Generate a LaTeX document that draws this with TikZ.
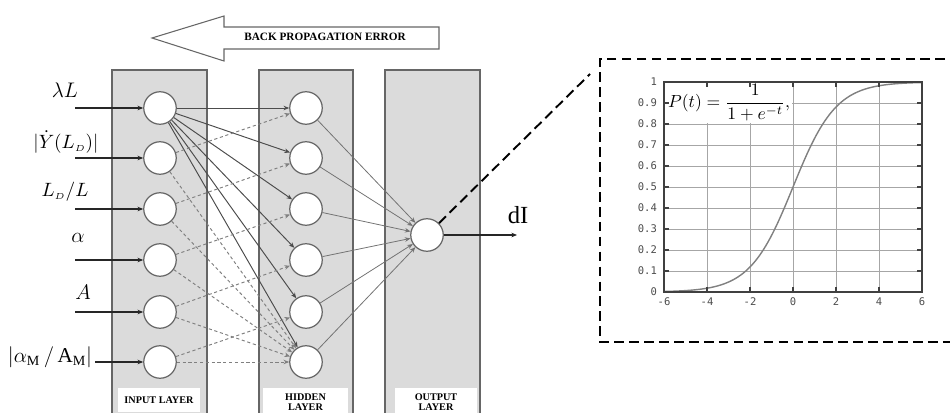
\documentclass[tikz,border=0pt]{standalone}
\usepackage{fontspec}
\setmainfont{Liberation Serif}
\newfontfamily\monofont{DejaVu Sans Mono}
\usetikzlibrary{arrows.meta}

\begin{document}
\begin{tikzpicture}[
x=0.2mm, y=-0.2mm,
>={Stealth[length=3.2pt,width=2.6pt]},
layer/.style={draw=black!60, fill=black!14, line width=0.6pt},
neuron/.style={circle, draw=black!60, fill=white, line width=0.7pt,
minimum size=6.5mm, inner sep=0pt},
feed/.style={->, draw=black!85, line width=0.6pt},
edge/.style={->, draw=black!70, line width=0.55pt},
dedge/.style={->, draw=black!50, line width=0.55pt, dash pattern=on 1.8pt off 1.5pt},
oedge/.style={->, draw=black!55, line width=0.45pt},
tag/.style={fill=white, align=center, inner sep=0pt, anchor=north,
font=\bfseries\fontsize{5.8}{5.8}\selectfont},
invar/.style={font=\fontsize{12}{14}\selectfont, inner sep=1pt},
zoomline/.style={draw=black, line width=1.1pt, dash pattern=on 5.5pt off 3pt},
ticklbl/.style={font=\monofont\fontsize{6}{7}\selectfont, text=black!70, inner sep=1pt}
]
\clip (0,0) rectangle (950,412);

% back propagation arrow
\draw[black!60, line width=0.6pt, fill=white] (152,38) -- (224,16) -- (224,27) -- (439,27)
  -- (439,49) -- (224,49) -- (224,61) -- cycle;
\node[font=\bfseries\fontsize{6.4}{7}\selectfont] (bperr) at (325,37) {BACK PROPAGATION ERROR};

% layers
\draw[layer] (112,70) rectangle (207,430);
\draw[layer] (259,70) rectangle (353,430);
\draw[layer] (385,70) rectangle (480,430);
\node[tag, minimum width=16.4mm, minimum height=4.8mm] (intag) at (159,388) {INPUT LAYER};
\node[tag, minimum width=17mm, minimum height=5.4mm] (hidtag) at (305.5,388) {HIDDEN\\LAYER};
\node[tag, minimum width=16.4mm, minimum height=5.4mm] (outtag) at (436,388) {OUTPUT\\LAYER};

% input variables
\node[invar] (lab1) at (65,90) {$\lambda L$};
\node[invar, font=\fontsize{11}{13}\selectfont] (lab2) at (66,142)
  {$\bigl|\dot{Y}(L_{\scriptscriptstyle D})\bigr|$};
\node[invar, font=\fontsize{11}{13}\selectfont] (lab3) at (65,192) {$L_{\scriptscriptstyle D}/L$};
\node[invar] (lab4) at (78,238) {$\alpha$};
\node[invar] (lab5) at (83,292) {$A$};
\node[invar] (lab6) at (50,357) {$\bigl|\alpha_{\mathrm{M}}\,/\,\mathrm{A}_{\mathrm{M}}\bigr|$};
\coordinate (s1) at (75,108);
\coordinate (s2) at (75,158);
\coordinate (s3) at (75,209);
\coordinate (s4) at (75,260);
\coordinate (s5) at (75,312);
\coordinate (s6) at (95,362);

% neurons
\node[neuron] (in1) at (160,108) {};
\node[neuron] (in2) at (160,158) {};
\node[neuron] (in3) at (160,209) {};
\node[neuron] (in4) at (160,260) {};
\node[neuron] (in5) at (160,312) {};
\node[neuron] (in6) at (160,362) {};
\node[neuron] (hid1) at (306,108) {};
\node[neuron] (hid2) at (306,158) {};
\node[neuron] (hid3) at (306,209) {};
\node[neuron] (hid4) at (306,260) {};
\node[neuron] (hid5) at (306,312) {};
\node[neuron] (hid6) at (306,362) {};
\node[neuron] (out) at (427,235) {};

\draw[feed] (s1) -- (in1);
\draw[feed] (s2) -- (in2);
\draw[feed] (s3) -- (in3);
\draw[feed] (s4) -- (in4);
\draw[feed] (s5) -- (in5);
\draw[feed] (s6) -- (in6);

\draw[edge] (in1) -- (hid1);
\draw[edge] (in1) -- (hid2);
\draw[edge] (in1) -- (hid3);
\draw[edge] (in1) -- (hid4);
\draw[edge] (in1) -- (hid5);
\draw[edge] (in1) -- (hid6);
\draw[dedge] (in2) -- (hid1);
\draw[dedge] (in3) -- (hid2);
\draw[dedge] (in4) -- (hid3);
\draw[dedge] (in5) -- (hid4);
\draw[dedge] (in6) -- (hid5);
\draw[dedge] (in2) -- (hid6);
\draw[dedge] (in3) -- (hid6);
\draw[dedge] (in4) -- (hid6);
\draw[dedge] (in5) -- (hid6);
\draw[dedge] (in6) -- (hid6);

\draw[oedge] (hid1) -- (out);
\draw[oedge] (hid2) -- (out);
\draw[oedge] (hid3) -- (out);
\draw[oedge] (hid4) -- (out);
\draw[oedge] (hid5) -- (out);
\draw[oedge] (hid6) -- (out);

\coordinate (dIend) at (517,235);
\draw[feed] (out) -- (dIend);
\node[font=\fontsize{14}{16}\selectfont] (dItxt) at (518,215) {dI};

% zoom on the transfer function
\coordinate (zoomend) at (590,74);
\draw[zoomline] (out) -- (zoomend);
\draw[zoomline] (960,59) -- (600,59) -- (600,342) -- (960,342);

\foreach \k in {1,...,9}
  \draw[black!35, line width=0.5pt] (664,{292-21*\k}) -- (922,{292-21*\k});
\foreach \k in {1,...,5}
  \draw[black!35, line width=0.5pt] ({664+43*\k},82) -- ({664+43*\k},292);
\draw[black!50, line width=0.8pt] plot[domain=-6:6, samples=120]
  ({664+21.5*(\x+6)}, {292-210/(1+exp(-\x))});
\node[fill=white, inner sep=1pt, anchor=west, font=\fontsize{10}{12}\selectfont] (ptformula)
  at (666,103) {$P(t)=\displaystyle\frac{1}{1+e^{-t}},$};
\draw[black!75, line width=0.6pt] (664,82) rectangle (922,292);
\foreach \k/\t in {0/0,1/0.1,2/0.2,3/0.3,4/0.4,5/0.5,6/0.6,7/0.7,8/0.8,9/0.9,10/1} {
  \draw[black!75, line width=0.6pt] (664,{292-21*\k}) -- (669,{292-21*\k});
  \draw[black!75, line width=0.6pt] (922,{292-21*\k}) -- (917,{292-21*\k});
  \node[ticklbl, anchor=east] (ylbl\k) at (659,{292-21*\k}) {\t};
}
\foreach \k/\t in {0/-6,1/-4,2/-2,3/0,4/2,5/4,6/6} {
  \draw[black!75, line width=0.6pt] ({664+43*\k},292) -- ({664+43*\k},287);
  \draw[black!75, line width=0.6pt] ({664+43*\k},82) -- ({664+43*\k},87);
  \node[ticklbl, anchor=north] (xlbl\k) at ({664+43*\k},296) {\t};
}
\end{tikzpicture}
\end{document}
